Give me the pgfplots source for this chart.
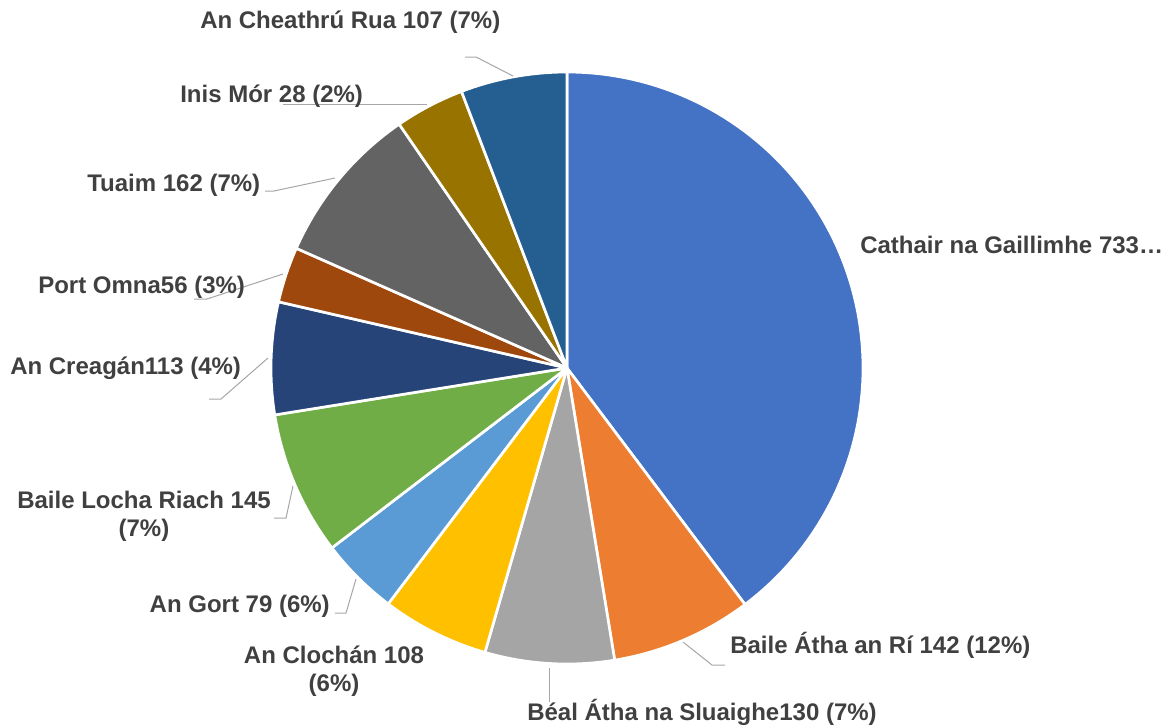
\documentclass[border=0pt]{standalone}
\usepackage{pgfplots}
\usepackage{pgfplotstable}
\pgfplotsset{compat=1.18}
\usepackage{fontspec}
\setmainfont{Liberation Sans}
\definecolor{c1}{HTML}{4472C4}
\definecolor{c2}{HTML}{ED7D31}
\definecolor{c3}{HTML}{A5A5A5}
\definecolor{c4}{HTML}{FFC000}
\definecolor{c5}{HTML}{5B9BD5}
\definecolor{c6}{HTML}{70AD47}
\definecolor{c7}{HTML}{264478}
\definecolor{c8}{HTML}{9E480E}
\definecolor{c9}{HTML}{636363}
\definecolor{c10}{HTML}{997300}
\definecolor{c11}{HTML}{255E91}
\definecolor{txt}{HTML}{404040}
\definecolor{lead}{HTML}{A6A6A6}

\pgfplotstableread{
name value color
Cathair 733 c1
BaileAthaanRi 142 c2
BealAtha 130 c3
Clochan 108 c4
Gort 79 c5
BaileLochaRiach 145 c6
Creagan 113 c7
PortOmna 56 c8
Tuaim 162 c9
InisMor 70 c10
Cheathru 107 c11
}\piedata

\begin{document}
\begin{tikzpicture}
\pgfplotstablegetrowsof{\piedata}
\pgfmathtruncatemacro\lastrow{\pgfplotsretval-1}
\def\pietotal{0}
\pgfplotsforeachungrouped \ii in {0,...,\lastrow}{%
  \pgfplotstablegetelem{\ii}{value}\of\piedata
  \pgfmathsetmacro\pietotal{\pietotal+\pgfplotsretval}%
}
\begin{axis}[
  scale only axis, width=873.75pt, height=544.5pt,
  xmin=0, xmax=1165, ymin=0, ymax=726, y dir=reverse,
  hide axis, clip=false,
]
\def\piecum{0}
\pgfplotsforeachungrouped \ii in {0,...,\lastrow}{%
  \pgfplotstablegetelem{\ii}{value}\of\piedata \let\sliceval\pgfplotsretval
  \pgfplotstablegetelem{\ii}{color}\of\piedata \let\slicecol\pgfplotsretval
  \pgfmathsetmacro\angA{90-\piecum/\pietotal*360}%
  \pgfmathsetmacro\piecum{\piecum+\sliceval}%
  \pgfmathsetmacro\angB{90-\piecum/\pietotal*360}%
  \edef\temp{\noexpand\addplot[fill=\slicecol, draw=white, line width=2pt, line join=round, domain=\angB:\angA, samples=90] ({567+296*cos(x)},{368-296*sin(x)}) -- (axis cs:567,368) -- cycle;}%
  \temp
}
% leader lines
\begin{scope}[draw=lead, line width=0.75pt]
\draw (axis cs:465,57) -- (axis cs:476,57) -- (axis cs:513,76);
\draw (axis cs:283,104) -- (axis cs:427,104);
\draw (axis cs:265,191) -- (axis cs:274,191) -- (axis cs:335,178);
\draw (axis cs:194,299) -- (axis cs:207,299) -- (axis cs:283,274);
\draw (axis cs:209,399) -- (axis cs:221,399) -- (axis cs:268,358);
\draw (axis cs:274,518) -- (axis cs:286,518) -- (axis cs:293,486);
\draw (axis cs:335,613) -- (axis cs:346,613) -- (axis cs:356,579);
\draw (axis cs:549,668) -- (axis cs:549,702);
\draw (axis cs:683,642) -- (axis cs:712,665) -- (axis cs:725,665);
\end{scope}
% labels
\begin{scope}[every node/.style={inner sep=0pt, text=txt, font=\fontsize{18}{21}\selectfont\bfseries}]
\node[anchor=west] at (axis cs:860,245) {Cathair na Gaillimhe 733…};
\node[anchor=west] at (axis cs:730,645) {Baile Átha an Rí 142 (12\%)};
\node[anchor=west] at (axis cs:527,712) {Béal Átha na Sluaighe130 (7\%)};
\node[align=center] at (axis cs:334,671) {An Clochán 108\\(6\%)};
\node[anchor=east] at (axis cs:330,606) {An Gort 79 (6\%)};
\node[align=center] at (axis cs:144,516) {Baile Locha Riach 145\\(7\%)};
\node[anchor=west] at (axis cs:10,368) {An Creagán113 (4\%)};
\node[anchor=west] at (axis cs:38,287) {Port Omna56 (3\%)};
\node[anchor=west] at (axis cs:87,185) {Tuaim 162 (7\%)};
\node[anchor=west] at (axis cs:180,96) {Inis Mór 28 (2\%)};
\node[anchor=west] at (axis cs:200,22) {An Cheathrú Rua 107 (7\%)};
\end{scope}
\end{axis}
\pgfresetboundingbox
\path (0,0) rectangle (873.75pt,544.5pt);
\end{tikzpicture}
\end{document}
